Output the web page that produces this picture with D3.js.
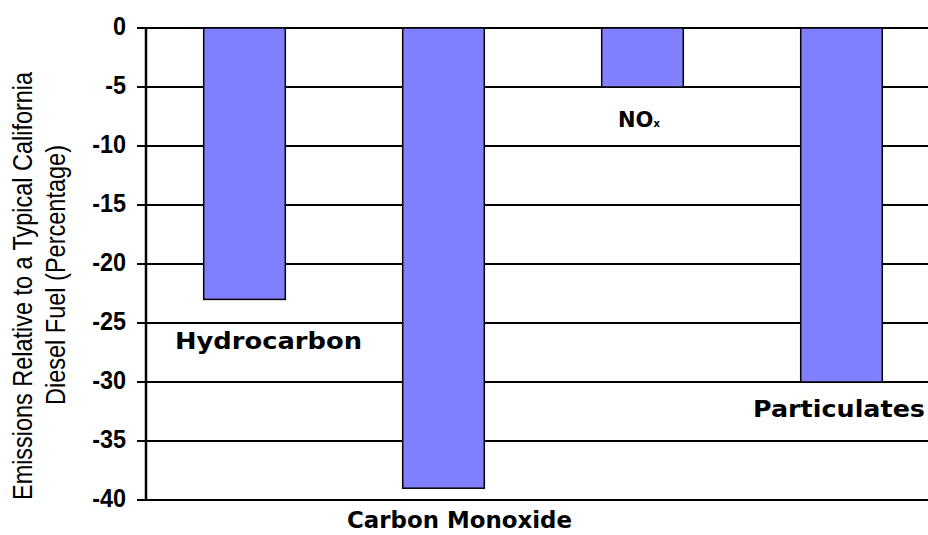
<!DOCTYPE html>
<meta charset="utf-8">
<style>
body { margin: 0; background: #fff; }
.bar { fill: #8080ff; stroke: #000; stroke-width: 1.5; }
.tick text { font-family: "Liberation Sans", Arial, sans-serif; font-weight: bold; font-size: 26px; }
.lbl { font-family: "DejaVu Sans", sans-serif; font-weight: bold; font-size: 23px; }
.ttl { font-family: "Liberation Sans", Arial, sans-serif; font-size: 28px; }
</style>
<body>
<script src="https://cdn.jsdelivr.net/npm/d3@7"></script>
<script>

// data
var categories = ["Hydrocarbon", "Carbon Monoxide", "NOx", "Particulates"];
var values = [-23, -39, -5, -30];
var yTicks = [0, -5, -10, -15, -20, -25, -30, -35, -40];
// where the category labels sit (value units, shift from bar left edge, text width)
var labelAt = [-27.2, -42.4, -8.4, -33];
var labelShift = [-28.7, -55.7, 16.3, -47.7];
var labelWidth = [187, 225, null, 172];

var width = 928, height = 535;
var plotLeft = 146, plotRight = 940, plotTop = 28, plotBottom = 500;

var svg = d3.select("body").append("svg")
    .attr("width", width)
    .attr("height", height);

var x = d3.scaleBand()
    .domain(categories)
    .range([plotLeft, plotRight])
    .paddingInner(0.59)
    .paddingOuter(0.29);

var y = d3.scaleLinear()
    .domain([0, -40])
    .range([plotTop, plotBottom]);

// grid lines
svg.append("g")
  .selectAll("line")
  .data(yTicks)
  .enter().append("line")
    .attr("x1", plotLeft - 9)
    .attr("x2", width)
    .attr("y1", function(d) { return y(d); })
    .attr("y2", function(d) { return y(d); })
    .attr("stroke", "#000")
    .attr("stroke-width", 2.2);

// bars
svg.selectAll(".bar")
    .data(values)
  .enter().append("rect")
    .attr("class", "bar")
    .attr("x", function(d, i) { return x(categories[i]); })
    .attr("y", y(0))
    .attr("width", x.bandwidth())
    .attr("height", function(d) { return y(d) - y(0); });

// y axis
var yAxis = svg.append("g")
    .attr("transform", "translate(" + plotLeft + ",0)")
    .call(d3.axisLeft(y).tickValues(yTicks).tickSize(9).tickPadding(11)
      .tickFormat(function(d) { return String(d); }));
yAxis.select(".domain").attr("stroke-width", 2.5).attr("d", "M0," + plotTop + "V" + plotBottom);
yAxis.selectAll(".tick line").remove();
yAxis.selectAll(".tick text")
    .attr("fill", "#000")
    .attr("x", 0)
    .attr("dy", "0.26em")
    .attr("transform", "translate(-20,0) scale(0.9,1)");

// category labels
svg.selectAll(".lbl")
    .data(categories)
  .enter().append("text")
    .attr("class", "lbl")
    .attr("x", function(d, i) { return x(d) + labelShift[i]; })
    .attr("y", function(d, i) { return y(labelAt[i]); })
    .each(function(d, i) {
      var t = d3.select(this);
      if (d == "NOx") {
        t.style("font-size", "21px").text("NO");
        t.append("tspan").attr("font-size", "10px").text("x");
      } else {
        t.text(d)
          .attr("textLength", labelWidth[i])
          .attr("lengthAdjust", "spacingAndGlyphs");
      }
    });

// axis title
var title = svg.append("text")
    .attr("class", "ttl")
    .attr("transform", "rotate(-90)")
    .attr("text-anchor", "middle");
title.append("tspan").attr("x", -286).attr("y", 32)
    .attr("textLength", 428).attr("lengthAdjust", "spacingAndGlyphs")
    .text("Emissions Relative to a Typical California");
title.append("tspan").attr("x", -275).attr("y", 65)
    .attr("textLength", 260).attr("lengthAdjust", "spacingAndGlyphs")
    .text("Diesel Fuel (Percentage)");

</script>
</body>
